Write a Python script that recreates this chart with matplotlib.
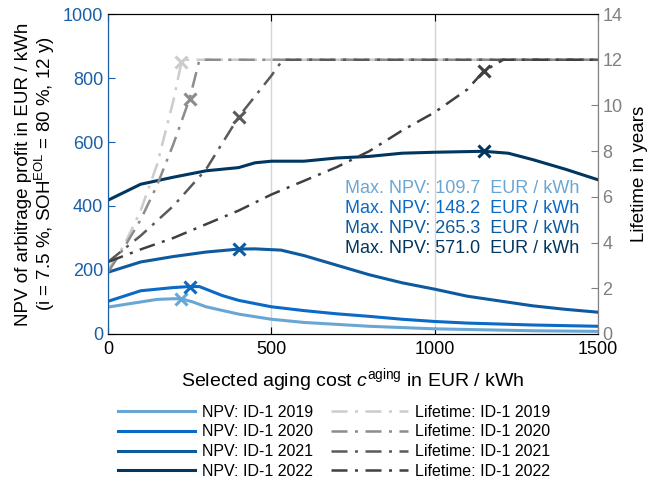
import numpy as np
import matplotlib.pyplot as plt

plt.rcParams['font.family'] = ['Liberation Sans', 'DejaVu Sans']
plt.rcParams['mathtext.fontset'] = 'custom'
plt.rcParams['mathtext.rm'] = 'Liberation Sans'
plt.rcParams['mathtext.it'] = 'Liberation Sans:italic'

# NPV curves (EUR / kWh) over selected aging cost
c19 = [0, 100, 150, 200, 225, 260, 300, 400, 500, 600, 700, 800, 900, 1000, 1100, 1200, 1300, 1400, 1500]
npv19 = [84, 100, 108, 110, 109.7, 100, 85, 62, 46, 36, 30, 24, 20, 16, 14, 12, 10, 9, 8]
c20 = [0, 100, 200, 250, 280, 350, 400, 500, 600, 700, 800, 900, 1000, 1100, 1200, 1300, 1400, 1500]
npv20 = [102, 135, 145, 148.2, 148, 120, 105, 85, 73, 63, 55, 46, 39, 34, 31, 28, 26, 24]
c21 = [0, 100, 200, 300, 400, 450, 530, 600, 700, 800, 900, 1000, 1100, 1200, 1300, 1400, 1500]
npv21 = [193, 225, 242, 256, 265.3, 266, 262, 245, 215, 185, 160, 140, 118, 103, 88, 77, 68]
c22 = [0, 100, 200, 300, 400, 450, 500, 600, 700, 800, 900, 1000, 1100, 1150, 1225, 1300, 1400, 1500]
npv22 = [418, 468, 490, 510, 520, 535, 540, 540, 550, 555, 565, 568, 570, 571.0, 565, 545, 515, 482]

# Lifetime curves (years)
lc19 = [0, 50, 100, 150, 200, 225, 235, 1500]
life19 = [2.8, 3.9, 5.4, 7.4, 10.2, 11.9, 12, 12]
lc20 = [0, 50, 100, 150, 200, 250, 280, 1500]
life20 = [2.7, 3.8, 5.0, 6.5, 8.3, 10.3, 12, 12]
lc21 = [0, 100, 200, 300, 400, 500, 535, 1500]
life21 = [3.15, 4.3, 5.6, 7.2, 9.5, 11.3, 12, 12]
lc22 = [0, 100, 200, 300, 400, 500, 600, 700, 800, 900, 1000, 1100, 1150, 1210, 1500]
life22 = [3.15, 3.7, 4.2, 4.8, 5.4, 6.1, 6.7, 7.3, 8.0, 8.9, 9.7, 10.7, 11.5, 12, 12]

years = ['2019', '2020', '2021', '2022']
npv_x = [c19, c20, c21, c22]
npv_y = [npv19, npv20, npv21, npv22]
life_x = [lc19, lc20, lc21, lc22]
life_y = [life19, life20, life21, life22]
max_npv = ['109.7', '148.2', '265.3', '571.0']
opt_cost = [225, 250, 400, 1150]

blue = ['#6aa6d4', '#0a6ac6', '#0d5a9e', '#00365f']
gray = ['#cccccc', '#8c8c8c', '#5a5a5a', '#404040']
axblue = '#1a5fa6'

fig = plt.figure(figsize=(6.49, 4.84), dpi=100)
ax = fig.add_axes([0.1664, 0.31, 0.755, 0.661])
ax2 = ax.twinx()

handles = []
for i in range(4):
    h, = ax.plot(npv_x[i], npv_y[i], color=blue[i], lw=2.2, label='NPV: ID-1 ' + years[i], zorder=3)
    handles.append(h)
    k = npv_x[i].index(opt_cost[i])
    ax.plot(opt_cost[i], npv_y[i][k], 'x', color=blue[i], ms=9, mew=2.2, zorder=4)

for i in range(4):
    h, = ax2.plot(life_x[i], life_y[i], color=gray[i], lw=1.8, dashes=(6.4, 3.0, 1.2, 3.0),
                  label='Lifetime: ID-1 ' + years[i])
    handles.append(h)
    ly = np.interp(opt_cost[i], life_x[i], life_y[i])
    ax2.plot(opt_cost[i], ly, 'x', color=gray[i], ms=9, mew=2.2)

ax.set_xlim(0, 1500)
ax.set_ylim(0, 1000)
ax2.set_ylim(0, 14)
ax.set_xticks([0, 500, 1000, 1500])
ax.set_yticks([0, 200, 400, 600, 800, 1000])
ax2.set_yticks([0, 2, 4, 6, 8, 10, 12, 14])
ax.grid(axis='x', color='#d4d4d4', lw=1)
ax.set_axisbelow(True)

ax.tick_params(axis='x', direction='in', top=True, labelsize=13, length=5, pad=5)
ax.tick_params(axis='y', direction='in', colors=axblue, labelsize=13, length=5)
ax2.tick_params(axis='y', direction='in', colors='#808080', labelsize=13, length=5, pad=3)
ax2.spines['left'].set_color(axblue)
ax2.spines['right'].set_color('#808080')
ax.spines['left'].set_color(axblue)
ax.spines['right'].set_color('#808080')

ax.set_xlabel('Selected aging cost $c^{\\mathrm{aging}}$ in EUR / kWh', fontsize=14, labelpad=6)
ax.set_ylabel('NPV of arbitrage profit in EUR / kWh\n(i = 7.5 %, SOH$^{\\mathrm{EOL}}$ = 80 %, 12 y)',
              fontsize=13.5, linespacing=1.05)
ax2.set_ylabel('Lifetime in years', fontsize=13.5, labelpad=6)

for i in range(4):
    ax.text(0.962, 0.456 - i * 0.0625, 'Max. NPV: ' + max_npv[i] + '  EUR / kWh',
            transform=ax.transAxes, ha='right', va='center', color=blue[i], fontsize=13)

fig.legend(handles=handles, ncol=2, loc='center', bbox_to_anchor=(0.515, 0.087),
           frameon=False, fontsize=11.5, handlelength=4.8, handletextpad=0.45,
           columnspacing=1.1, labelspacing=0.3)

plt.savefig('out.png', dpi=100)
